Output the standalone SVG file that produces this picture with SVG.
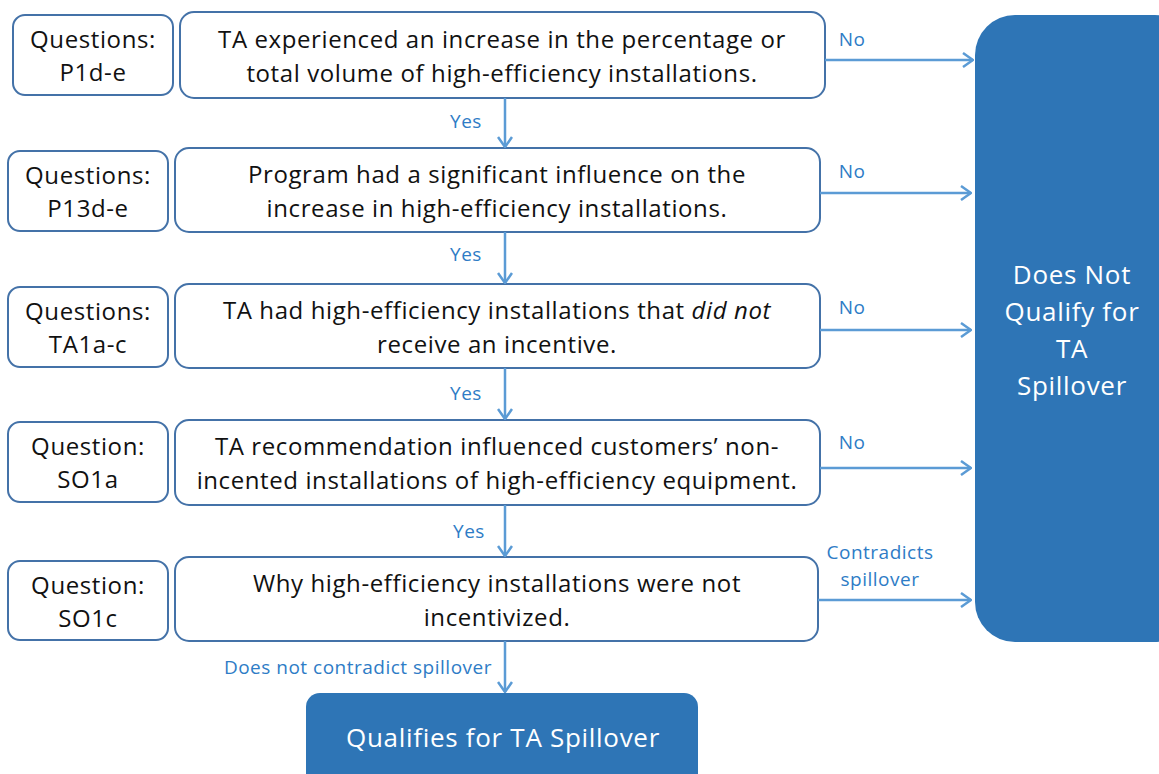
<svg xmlns="http://www.w3.org/2000/svg" width="1159" height="774" viewBox="0 0 1159 774">
  <style>
    .q { fill: #fff; stroke: #4472a8; stroke-width: 2; }
    .t { font-family: "Open Sans", "Liberation Sans", sans-serif; font-size: 24px; letter-spacing: 0.6px; fill: #111; text-anchor: middle; }
    .lbl { font-family: "Open Sans", "Liberation Sans", sans-serif; font-size: 19px; letter-spacing: 0.5px; fill: #2e7cc6; }
    .w { font-family: "Open Sans", "Liberation Sans", sans-serif; font-size: 26px; letter-spacing: 0.7px; fill: #fff; text-anchor: middle; }
    .c { stroke: #5b9bd5; stroke-width: 2.5; fill: none; }
    .term { fill: #2e75b6; }
  </style>
  <defs>
    <marker id="ah" viewBox="0 0 12 16" refX="11" refY="8" markerWidth="12" markerHeight="16" markerUnits="userSpaceOnUse" orient="auto">
      <path d="M1,1 L11,8 L1,15" fill="none" stroke="#5b9bd5" stroke-width="2.5"/>
    </marker>
  </defs>

  <!-- terminal: does not qualify -->
  <g id="not-qualify">
    <rect class="term" x="975" y="15" width="220" height="627" rx="40"/>
    <text class="w" x="1072" y="284">Does Not</text>
    <text class="w" x="1072" y="321">Qualify for</text>
    <text class="w" x="1072" y="358">TA</text>
    <text class="w" x="1072" y="395">Spillover</text>
  </g>

  <!-- row 1 -->
  <g id="q1">
    <rect class="q" x="13" y="15" width="160" height="80" rx="12"/>
    <text class="t" x="93" y="48">Questions:</text>
    <text class="t" x="93" y="81">P1d-e</text>
  </g>
  <g id="s1">
    <rect class="q" x="180" y="12" width="645" height="86" rx="14"/>
    <text class="t" x="502" y="48">TA experienced an increase in the percentage or</text>
    <text class="t" x="502" y="82">total volume of high-efficiency installations.</text>
  </g>

  <!-- row 2 -->
  <g id="q2">
    <rect class="q" x="8" y="151" width="160" height="80" rx="12"/>
    <text class="t" x="88" y="184">Questions:</text>
    <text class="t" x="88" y="217">P13d-e</text>
  </g>
  <g id="s2">
    <rect class="q" x="175" y="148" width="645" height="84" rx="14"/>
    <text class="t" x="497" y="183">Program had a significant influence on the</text>
    <text class="t" x="497" y="217">increase in high-efficiency installations.</text>
  </g>

  <!-- row 3 -->
  <g id="q3">
    <rect class="q" x="8" y="287" width="160" height="80" rx="12"/>
    <text class="t" x="88" y="320">Questions:</text>
    <text class="t" x="88" y="353">TA1a-c</text>
  </g>
  <g id="s3">
    <rect class="q" x="175" y="284" width="645" height="84" rx="14"/>
    <text class="t" x="497" y="319">TA had high-efficiency installations that <tspan font-style="italic">did not</tspan></text>
    <text class="t" x="497" y="353">receive an incentive.</text>
  </g>

  <!-- row 4 -->
  <g id="q4">
    <rect class="q" x="8" y="422" width="160" height="80" rx="12"/>
    <text class="t" x="88" y="455">Question:</text>
    <text class="t" x="88" y="488">SO1a</text>
  </g>
  <g id="s4">
    <rect class="q" x="175" y="420" width="645" height="85" rx="14"/>
    <text class="t" x="497" y="455">TA recommendation influenced customers’ non-</text>
    <text class="t" x="497" y="489">incented installations of high-efficiency equipment.</text>
  </g>

  <!-- row 5 -->
  <g id="q5">
    <rect class="q" x="8" y="561" width="160" height="79" rx="12"/>
    <text class="t" x="88" y="594">Question:</text>
    <text class="t" x="88" y="627">SO1c</text>
  </g>
  <g id="s5">
    <rect class="q" x="175" y="557" width="643" height="84" rx="14"/>
    <text class="t" x="497" y="592">Why high-efficiency installations were not</text>
    <text class="t" x="497" y="626">incentivized.</text>
  </g>

  <!-- terminal: qualifies -->
  <g id="qualifies">
    <rect class="term" x="306" y="693" width="392" height="100" rx="14"/>
    <text class="w" x="503" y="747">Qualifies for TA Spillover</text>
  </g>

  <!-- connectors -->
  <g id="connectors">
    <line class="c" x1="505" y1="98" x2="505" y2="147" marker-end="url(#ah)"/>
    <line class="c" x1="505" y1="232" x2="505" y2="283" marker-end="url(#ah)"/>
    <line class="c" x1="505" y1="368" x2="505" y2="419" marker-end="url(#ah)"/>
    <line class="c" x1="505" y1="505" x2="505" y2="556" marker-end="url(#ah)"/>
    <line class="c" x1="505" y1="641" x2="505" y2="692" marker-end="url(#ah)"/>

    <line class="c" x1="825" y1="60" x2="973" y2="60" marker-end="url(#ah)"/>
    <line class="c" x1="820" y1="193" x2="971" y2="193" marker-end="url(#ah)"/>
    <line class="c" x1="820" y1="330" x2="971" y2="330" marker-end="url(#ah)"/>
    <line class="c" x1="820" y1="468" x2="971" y2="468" marker-end="url(#ah)"/>
    <line class="c" x1="818" y1="600" x2="971" y2="600" marker-end="url(#ah)"/>

    <text class="lbl" x="466" y="128" text-anchor="middle">Yes</text>
    <text class="lbl" x="466" y="261" text-anchor="middle">Yes</text>
    <text class="lbl" x="466" y="400" text-anchor="middle">Yes</text>
    <text class="lbl" x="469" y="538" text-anchor="middle">Yes</text>
    <text class="lbl" x="492" y="674" text-anchor="end">Does not contradict spillover</text>

    <text class="lbl" x="852" y="46" text-anchor="middle">No</text>
    <text class="lbl" x="852" y="178" text-anchor="middle">No</text>
    <text class="lbl" x="852" y="314" text-anchor="middle">No</text>
    <text class="lbl" x="852" y="449" text-anchor="middle">No</text>
    <text class="lbl" x="880" y="559" text-anchor="middle">Contradicts</text>
    <text class="lbl" x="880" y="586" text-anchor="middle">spillover</text>
  </g>
</svg>
